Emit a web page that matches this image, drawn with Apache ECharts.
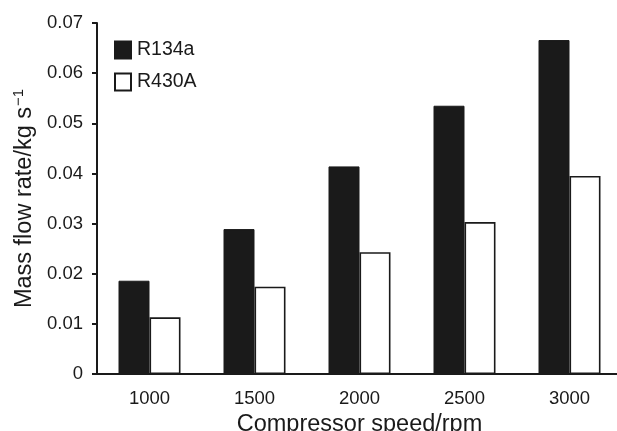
<!DOCTYPE html>
<html>
<head>
<meta charset="utf-8">
<script src="https://cdn.jsdelivr.net/npm/echarts@6/dist/echarts.min.js"></script>
<style>
    html, body { margin: 0; padding: 0; background: #fff; }
    #chart { width: 617px; height: 431px; }
</style>
</head>
<body>
<div id="chart"></div>
<script>
    // 压缩机转速
    var speeds = ['1000', '1500', '2000', '2500', '3000']
    // 质量流量 kg/s
    var r134a = [0.0186, 0.0289, 0.0414, 0.0535, 0.0666]
    var r430a = [0.0113, 0.0174, 0.0243, 0.0303, 0.0395]
    var yTicks = { min: 0, max: 0.07, interval: 0.01 }

    var font = 'Liberation Sans, Arial, Helvetica, sans-serif'
    var ink = '#1a1a1a'

    var myChart = echarts.init(document.getElementById('chart'))
    var option = {
        animation: false,
        textStyle: { fontFamily: font, color: ink },
        grid: { left: 97, right: -5, top: 23, bottom: 57, outerBoundsMode: 'none', containLabel: false },
        legend: {
            orient: 'vertical',
            left: 114,
            top: 40,
            padding: 0,
            itemWidth: 16,
            itemHeight: 17,
            itemGap: 12,
            icon: 'rect',
            textStyle: { fontSize: 19.5, color: ink, fontFamily: font, padding: [0, 0, 0, 1] },
            data: ['R134a', 'R430A']
        },
        xAxis: {
            type: 'category',
            data: speeds,
            name: 'Compressor speed/rpm',
            nameLocation: 'middle',
            nameGap: 35,
            nameTextStyle: { fontSize: 23.5, color: ink, fontFamily: font },
            axisLine: { lineStyle: { color: ink, width: 2 } },
            axisTick: { show: false },
            axisLabel: { fontSize: 18.5, color: ink, margin: 15, fontFamily: font }
        },
        yAxis: {
            type: 'value',
            min: yTicks.min,
            max: yTicks.max,
            interval: yTicks.interval,
            name: 'Mass flow rate/kg s{sup|−1}',
            nameLocation: 'middle',
            nameGap: 59,
            nameTextStyle: {
                fontSize: 23.5, color: ink, fontFamily: font,
                rich: {
                    sup: { fontSize: 15, color: ink, fontFamily: font, verticalAlign: 'top', padding: [0, 0, 10, 1] }
                }
            },
            axisLine: { show: true, lineStyle: { color: ink, width: 2 } },
            axisTick: { show: true, inside: false, length: 5, lineStyle: { color: ink, width: 2 } },
            axisLabel: {
                fontSize: 18.5, color: ink, margin: 14, fontFamily: font,
                formatter: function (v) {
                    return v === 0 ? '0' : v.toFixed(2)
                }
            },
            splitLine: { show: false }
        },
        series: [
            {
                name: 'R134a',
                type: 'bar',
                data: r134a,
                barWidth: 31,
                barGap: '0%',
                itemStyle: { color: ink, borderColor: ink, borderWidth: 1 }
            },
            {
                name: 'R430A',
                type: 'bar',
                data: r430a,
                barWidth: 31,
                barGap: '0%',
                itemStyle: { color: '#fff', borderColor: ink, borderWidth: 1.6 }
            }
        ]
    }
    myChart.setOption(option)
</script>
</body>
</html>
